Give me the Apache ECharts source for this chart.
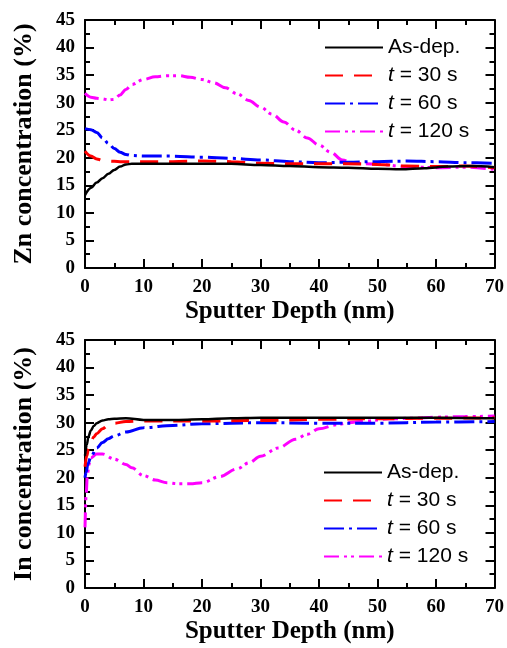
<!DOCTYPE html>
<html>
<head>
<meta charset="utf-8">
<script src="https://cdn.jsdelivr.net/npm/echarts@6/dist/echarts.min.js"></script>
<style>html,body{margin:0;padding:0;background:#fff;}#c{width:507px;height:648px;}</style>
</head>
<body>
<div id="c"></div>
<script>
// ---------- data ----------
const seriesNames = ['As-dep.', 't = 30 s', 't = 60 s', 't = 120 s'];
const xTicks = [0, 10, 20, 30, 40, 50, 60, 70];
const yTicks = [0, 5, 10, 15, 20, 25, 30, 35, 40, 45];

// Zn concentration (top panel)
const znAsDepX = [0,1,2,3,4,5,6,7,8,10,15,20,25,30,35,40,45,50,54,58,62,66,70];
const znAsDepY = [13.2,14.5,15.5,16.3,17.1,17.8,18.4,18.8,18.9,18.9,18.9,18.9,18.9,18.7,18.5,18.3,18.2,18.0,17.9,18.1,18.4,18.5,18.3];
const zn30X = [0,1,2,3,4,6,10,15,20,25,30,35,40,45,50,55,60,65,70];
const zn30Y = [21.2,20.3,19.8,19.5,19.4,19.3,19.3,19.3,19.4,19.3,19.0,18.9,18.9,18.9,18.8,18.5,18.4,18.5,18.2];
const zn60X = [0,1,2,3,4,5,6,7,8,10,15,20,25,30,35,40,45,50,55,60,65,70];
const zn60Y = [25.3,25.1,24.6,23.6,22.6,21.7,21.0,20.6,20.4,20.3,20.3,20.1,19.9,19.6,19.3,19.1,19.2,19.3,19.4,19.3,19.1,19.0];
const zn120X = [0,1,2,3,4,5,6,7,8,10,12,14,16,18,20,22,24,26,28,30,32,34,36,38,40,42,44,46,48,50,55,60,65,70];
const zn120Y = [31.7,31.0,30.8,30.7,30.5,30.6,31.4,32.4,33.3,34.2,34.7,34.9,34.9,34.6,34.2,33.6,32.7,31.6,30.4,29.2,27.9,26.5,25.0,23.6,22.3,21.0,19.6,19.0,18.9,18.8,18.4,18.2,18.3,17.9];

// In concentration (bottom panel)
const inAsDepX = [0,0.3,0.6,1,1.5,2,3,4,5,7,10,15,20,25,30,40,50,60,70];
const inAsDepY = [24,26,27.5,28.6,29.4,29.9,30.4,30.6,30.7,30.8,30.5,30.5,30.6,30.8,30.9,30.9,30.9,30.9,30.8];
const in30X = [0,0.3,0.6,1,1.5,2,3,4,5,7,10,20,30,40,50,60,70];
const in30Y = [22,24,25.3,26.4,27.4,28.0,28.9,29.5,29.9,30.2,30.3,30.3,30.4,30.6,30.7,30.8,30.9];
const in60X = [0,0.2,0.5,1,2,3,4,5,7,10,15,20,30,40,50,60,70];
const in60Y = [20,21,22.5,23.8,25.4,26.4,27.1,27.6,28.3,29.1,29.5,29.8,30.0,29.9,29.9,30.1,30.2];
const in120X = [0,0.2,0.4,0.7,1,2,3,5,7,8,10,12,14,16,18,20,23,26,28,30,33,36,38,40,43,45,48,52,56,60,65,70];
const in120Y = [11,17,20.5,22.5,23.6,24.3,24.3,23.4,22.4,21.8,20.4,19.6,19.1,18.9,18.9,19.1,20.2,21.6,22.7,23.9,25.4,27.0,27.9,28.9,29.6,30.0,30.3,30.7,30.8,31.0,31.1,31.2];

// ---------- style ----------
const colors = ['#000000', '#ff0000', '#0000ff', '#ff00ff'];
const dashes = ['solid', [18, 11], [20, 5, 3, 5], [15, 5, 3, 4, 3, 5]];
const widths = [2.5, 3, 3, 3];
const serif = '"Liberation Serif","Times New Roman",serif';
const sans = '"Liberation Sans",Arial,sans-serif';

function pairs(xs, ys) { return xs.map((x, i) => [x, ys[i]]); }

const chart = echarts.init(document.getElementById('c'), null, {renderer: 'canvas'});

const grids = [
  {left: 85, right: 11, top: 20, height: 248},
  {left: 85, right: 11, top: 340, height: 248}
];

const tick = {show: true, inside: true, length: 9, lineStyle: {color: '#000', width: 2}};
const minor = {show: true, splitNumber: 2, length: 5, lineStyle: {color: '#000', width: 2}};
const line = {show: true, onZero: false, lineStyle: {color: '#000', width: 2}};

const xAxes = [], yAxes = [];
const yNames = ['Zn concentration (%)', 'In concentration (%)'];
for (let g = 0; g < 2; g++) {
  xAxes.push({
    gridIndex: g, type: 'value', min: xTicks[0], max: xTicks[xTicks.length - 1], interval: xTicks[1] - xTicks[0],
    position: 'bottom', axisLine: line, axisTick: tick, minorTick: minor, splitLine: {show: false},
    axisLabel: {color: '#000', fontFamily: serif, fontWeight: 'bold', fontSize: 19, margin: 10},
    name: 'Sputter Depth (nm)', nameLocation: 'middle', nameGap: 31,
    nameTextStyle: {color: '#000', fontFamily: serif, fontWeight: 'bold', fontSize: 25}
  });
  xAxes.push({
    gridIndex: g, type: 'value', min: xTicks[0], max: xTicks[xTicks.length - 1], interval: xTicks[1] - xTicks[0],
    position: 'top', axisLine: line, axisTick: tick, minorTick: minor, splitLine: {show: false},
    axisLabel: {show: false}
  });
  yAxes.push({
    gridIndex: g, type: 'value', min: yTicks[0], max: yTicks[yTicks.length - 1], interval: yTicks[1] - yTicks[0],
    position: 'left', axisLine: line, axisTick: tick, minorTick: minor, splitLine: {show: false},
    axisLabel: {color: '#000', fontFamily: serif, fontWeight: 'bold', fontSize: 19, margin: 10},
    name: yNames[g], nameLocation: 'middle', nameGap: 48,
    nameTextStyle: {color: '#000', fontFamily: serif, fontWeight: 'bold', fontSize: 26}
  });
  yAxes.push({
    gridIndex: g, type: 'value', min: yTicks[0], max: yTicks[yTicks.length - 1], interval: yTicks[1] - yTicks[0],
    position: 'right', axisLine: line, axisTick: tick, minorTick: minor, splitLine: {show: false},
    axisLabel: {show: false}
  });
}

const panelData = [
  [pairs(znAsDepX, znAsDepY), pairs(zn30X, zn30Y), pairs(zn60X, zn60Y), pairs(zn120X, zn120Y)],
  [pairs(inAsDepX, inAsDepY), pairs(in30X, in30Y), pairs(in60X, in60Y), pairs(in120X, in120Y)]
];

const series = [];
for (let g = 0; g < 2; g++) {
  for (let s = 3; s >= 0; s--) {
    series.push({
      name: seriesNames[s], type: 'line', xAxisIndex: g * 2, yAxisIndex: g * 2,
      data: panelData[g][s], showSymbol: false, symbol: 'none', smooth: 0.35, smoothMonotone: 'x',
      lineStyle: {color: colors[s], width: widths[s], type: dashes[s]},
      itemStyle: {color: colors[s]}, animation: false, z: 2 + (3 - s)
    });
  }
}

function legendFmt(name) {
  return name.charAt(0) === 't' ? '{i|t}{n|' + name.slice(1) + '}' : '{n|' + name + '}';
}
const legendText = {
  color: '#000', fontFamily: sans, fontSize: 21,
  rich: {
    i: {fontFamily: sans, fontSize: 21, fontStyle: 'italic', color: '#000'},
    n: {fontFamily: sans, fontSize: 21, color: '#000'}
  }
};
const legends = [
  {left: 324, top: 37},
  {left: 323, top: 462}
].map(p => ({
  left: p.left, top: p.top, orient: 'vertical', data: seriesNames, itemWidth: 58, itemHeight: 20, itemGap: 7,
  formatter: legendFmt, textStyle: legendText, selectedMode: false, padding: 0,
  itemStyle: {opacity: 0, borderWidth: 0}
}));

chart.setOption({
  animation: false,
  backgroundColor: '#fff',
  grid: grids,
  xAxis: xAxes,
  yAxis: yAxes,
  legend: legends,
  series: series
});
</script>
</body>
</html>
